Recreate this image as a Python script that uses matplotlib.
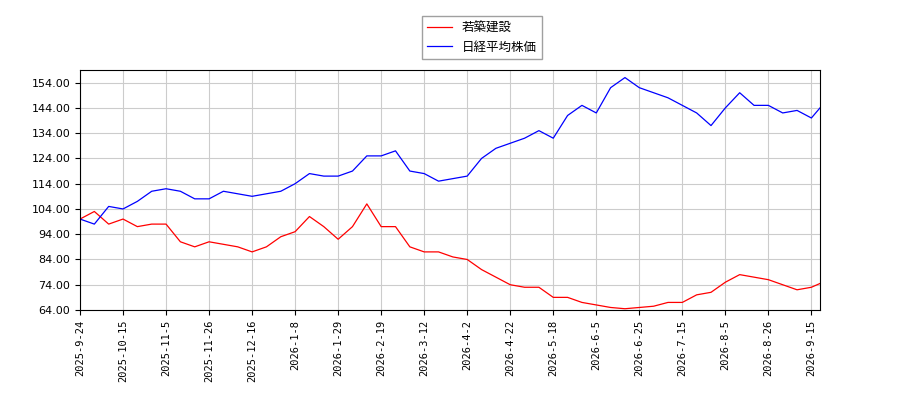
import matplotlib
matplotlib.use("Agg")
import matplotlib.pyplot as plt

plt.rcParams['font.family'] = ['Noto Sans CJK JP', 'DejaVu Sans']

idx = [0,5,10,15,20,25,30,35,40,45,50,55,60,65,70,75,80,85,90,95,100,105,110,115,120,125,
       130,135,140,145,150,155,160,165,170,175,180,185,190,195,200,205,210,215,220,225,230,
       235,240,245,250,255,258]
nikkei = [100,98,105,104,107,111,112,111,108,108,111,110,109,110,111,114,118,117,117,119,125,
          125,127,119,118,115,116,117,124,128,130,132,135,132,141,145,142,152,156,152,150,148,
          145,142,137,144,150,145,145,142,143,140,144]
wakachiku = [100,103,98,100,97,98,98,91,89,91,90,89,87,89,93,95,101,97,92,97,106,97,97,89,87,
             87,85,84,80,77,74,73,73,69,69,67,66,65,64.5,65,65.5,67,67,70,71,75,78,77,76,74,72,
             73,74.5]
tick_labels = ["2025-9-24","2025-10-15","2025-11-5","2025-11-26","2025-12-16","2026-1-8",
               "2026-1-29","2026-2-19","2026-3-12","2026-4-2","2026-4-22","2026-5-18",
               "2026-6-5","2026-6-25","2026-7-15","2026-8-5","2026-8-26","2026-9-15"]
tick_pos = [15 * i for i in range(len(tick_labels))]

fig = plt.figure(figsize=(9, 4), dpi=100)
ax = fig.add_axes([80/900, 0.225, 740/900, 0.6])
ax.plot(idx, wakachiku, color='red', lw=0.9, label='若築建設')
ax.plot(idx, nikkei, color='blue', lw=0.9, label='日経平均株価')
ax.set_xlim(0, 258)
ax.set_ylim(64, 159)
ax.set_yticks(range(64, 155, 10))
ax.set_yticklabels([f"{v:.2f}" for v in range(64, 155, 10)], fontsize=8, family='DejaVu Sans')
ax.set_xticks(tick_pos)
ax.set_xticklabels(tick_labels, rotation=90, fontsize=7.5, family='DejaVu Sans Mono')
ax.grid(True, color='#cccccc', lw=0.8)
ax.set_axisbelow(True)
fig.legend(loc='upper center', bbox_to_anchor=(0.535, 0.975), fontsize=9, fancybox=False,
           edgecolor='#888888')
fig.savefig('out.png')
